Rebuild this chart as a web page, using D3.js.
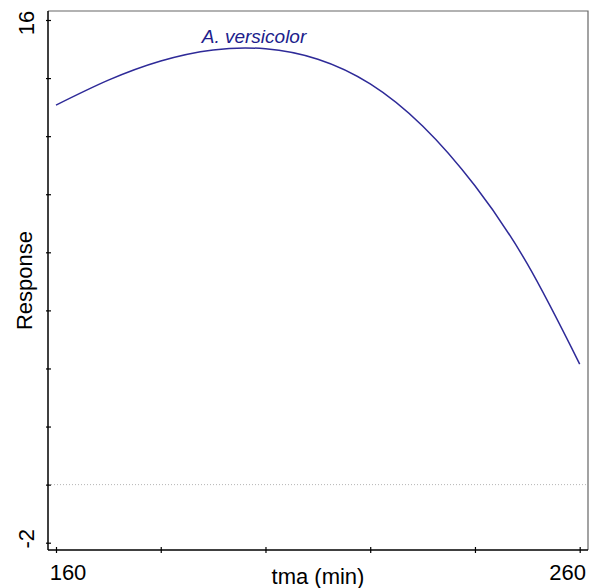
<!DOCTYPE html>
<html lang="en">
<head>
  <meta charset="UTF-8">
  <title>Response</title>
  <style>
    body { margin: 0; background: #fff; font-family: Arial, "Liberation Sans", sans-serif; }
    svg { display: block; }
    .curve { fill: none; stroke: #2e2a98; stroke-width: 1.5; }
    .zero { stroke: #b5b5b5; stroke-width: 1; stroke-dasharray: 1 2; }
    .axis path, .axis line { stroke: #000; }
  </style>
</head>
<body>
  <div id="chart"></div>
  <script src="https://d3js.org/d3.v7.min.js"></script>
  <script>
    // data
    const tma = [160, 170, 180, 190, 200, 210, 220, 230, 240, 250, 260];
    const response = [13.07, 13.93, 14.59, 14.97, 15.01, 14.65, 13.80, 12.35, 10.29, 7.60, 4.15];
    const xTicks = [160, 180, 200, 220, 240, 260];
    const yTicks = [-2, 0, 2, 4, 6, 8, 10, 12, 14, 16];
    const xLabels = { 160: "160", 260: "260" };
    const yLabels = { 16: "16", "-2": "-2" };
    const seriesName = "A. versicolor";

    (function () {
      const width = 591, height = 588;
      const box = { left: 48, right: 588, top: 11, bottom: 550 };

      const x = d3.scaleLinear().domain([160, 260]).range([56, 579.7]);
      const y = d3.scaleLinear().domain([-2, 16]).range([542.7, 20]);

      const svg = d3.select('#chart').append('svg')
        .attr('width', width)
        .attr('height', height);

      // frame: top and right in grey
      svg.append('path')
        .attr('d', `M${box.left},${box.top}H${box.right}V${box.bottom}`)
        .attr('fill', 'none')
        .attr('stroke', '#666')
        .attr('stroke-width', 1.2);

      // zero reference line
      svg.append('line')
        .classed('zero', true)
        .attr('x1', box.left).attr('x2', box.right)
        .attr('y1', y(0)).attr('y2', y(0));

      // left axis
      const gy = svg.append('g')
        .classed('axis', true)
        .attr('transform', `translate(${box.left},0)`)
        .call(d3.axisLeft(y).tickValues(yTicks).tickSize(0).tickFormat(''));
      gy.select('.domain').attr('d', `M0,${box.top}V${box.bottom}`).attr('stroke-width', 1.5);
      gy.selectAll('.tick line').attr('x1', -2).attr('x2', 3).attr('stroke-width', 1.2);

      // bottom axis
      const gx = svg.append('g')
        .classed('axis', true)
        .attr('transform', `translate(0,${box.bottom})`)
        .call(d3.axisBottom(x).tickValues(xTicks).tickSize(0).tickFormat(''));
      gx.select('.domain').attr('d', `M${box.left},0H${box.right}`).attr('stroke-width', 1.5);
      gx.selectAll('.tick line').attr('y1', -3).attr('y2', 3).attr('stroke-width', 1.2);

      // tick labels
      svg.selectAll('.xlab')
        .data(xTicks.filter(d => xLabels[d]))
        .enter()
        .append('text')
        .attr('x', (d, i) => x(d) + (i === 0 ? 12 : -12))
        .attr('y', 580)
        .attr('text-anchor', 'middle')
        .attr('font-size', 22)
        .text(d => xLabels[d]);

      svg.selectAll('.ylab')
        .data(yTicks.filter(d => yLabels[d]))
        .enter()
        .append('text')
        .attr('transform', d => `translate(34,${y(d) + (d > 0 ? 3 : -4)}) rotate(-90)`)
        .attr('text-anchor', 'middle')
        .attr('font-size', 22)
        .text(d => yLabels[d]);

      // axis titles
      svg.append('text')
        .attr('x', (box.left + box.right) / 2)
        .attr('y', 584)
        .attr('text-anchor', 'middle')
        .attr('font-size', 22)
        .text('tma (min)');

      svg.append('text')
        .attr('transform', `translate(32,${(box.top + box.bottom) / 2}) rotate(-90)`)
        .attr('text-anchor', 'middle')
        .attr('font-size', 22)
        .text('Response');

      // response curve
      const line = d3.line()
        .x((d, i) => x(tma[i]))
        .y(d => y(d))
        .curve(d3.curveNatural);

      svg.append('path')
        .datum(response)
        .classed('curve', true)
        .attr('d', line);

      // series label
      svg.append('text')
        .attr('x', 254)
        .attr('y', 43)
        .attr('text-anchor', 'middle')
        .attr('font-size', 19)
        .attr('font-style', 'italic')
        .attr('fill', '#211d8c')
        .text(seriesName);
    })();
  </script>
</body>
</html>
